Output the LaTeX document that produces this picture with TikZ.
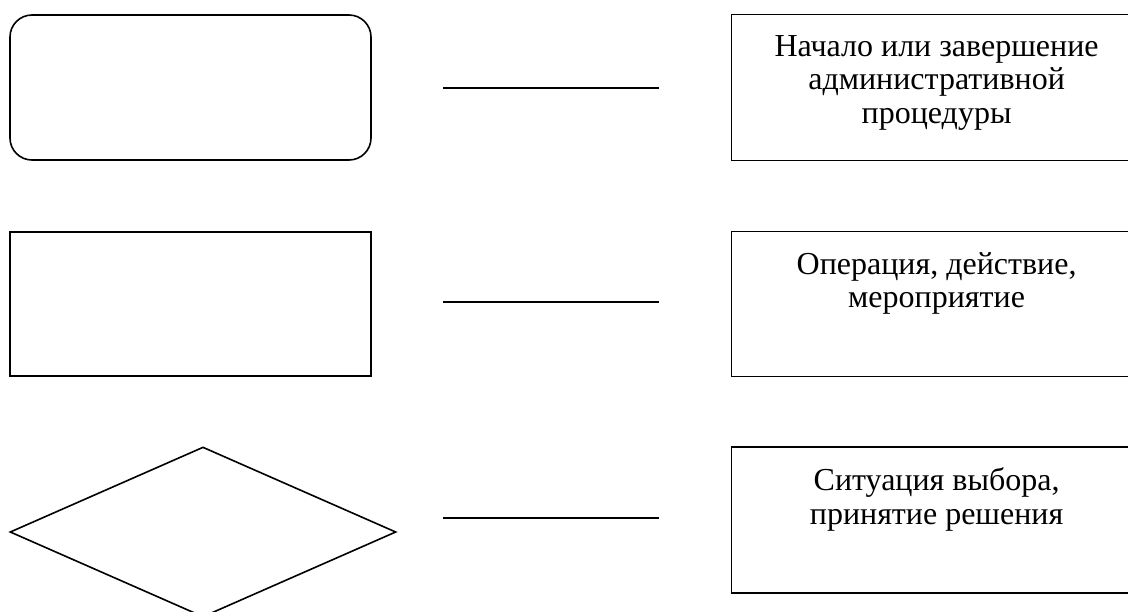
\documentclass[tikz,border=0pt]{standalone}
\usepackage{fontspec}
\setmainfont{Liberation Serif}
\usepackage{tikz}
\usetikzlibrary{positioning}
\usetikzlibrary{shapes.geometric}

\begin{document}
\begin{tikzpicture}[x=1pt,y=-1pt,
    figure/.style={draw,line width=1.6pt,inner sep=0pt,minimum width=361pt,minimum height=145pt},
    legend/.style={draw,line width=1.6pt,inner sep=0pt,minimum width=410pt,minimum height=146pt},
    legtext/.style={anchor=north,align=center,yshift=-18pt,font=\fontsize{32}{33.5}\selectfont},
    dash line/.style={line width=2pt}]
    \useasboundingbox (0,0) rectangle (1128,611);
    \node[figure,rounded corners=22pt] (Start) at (190.5,87.5) {};
    \node[figure,minimum height=144pt] (Oper) at (190.5,304) {};
    \node[figure,diamond,minimum width=386pt,minimum height=170pt] (Choice) at (203,532) {};
    \node[legend,right=359pt of Start,
        label={[legtext]north:Начало или завершение\\административной\\процедуры}] (StartL) {};
    \node[legend,right=359pt of Oper,minimum height=145pt,
        label={[legtext]north:Операция, действие,\\мероприятие}] (OperL) {};
    \node[legend,anchor=west] (ChoiceL) at (OperL.west |- 0,520) {};
    \node[legtext] at (ChoiceL.north) {Ситуация выбора,\\принятие решения};
    \coordinate (s1) at (443,88);
    \coordinate (e1) at (659,88);
    \coordinate (s2) at (443,302);
    \coordinate (e2) at (659,302);
    \coordinate (s3) at (443,518);
    \coordinate (e3) at (659,518);
    \draw[dash line] (s1) -- (e1);
    \draw[dash line] (s2) -- (e2);
    \draw[dash line] (s3) -- (e3);
\end{tikzpicture}
\end{document}
